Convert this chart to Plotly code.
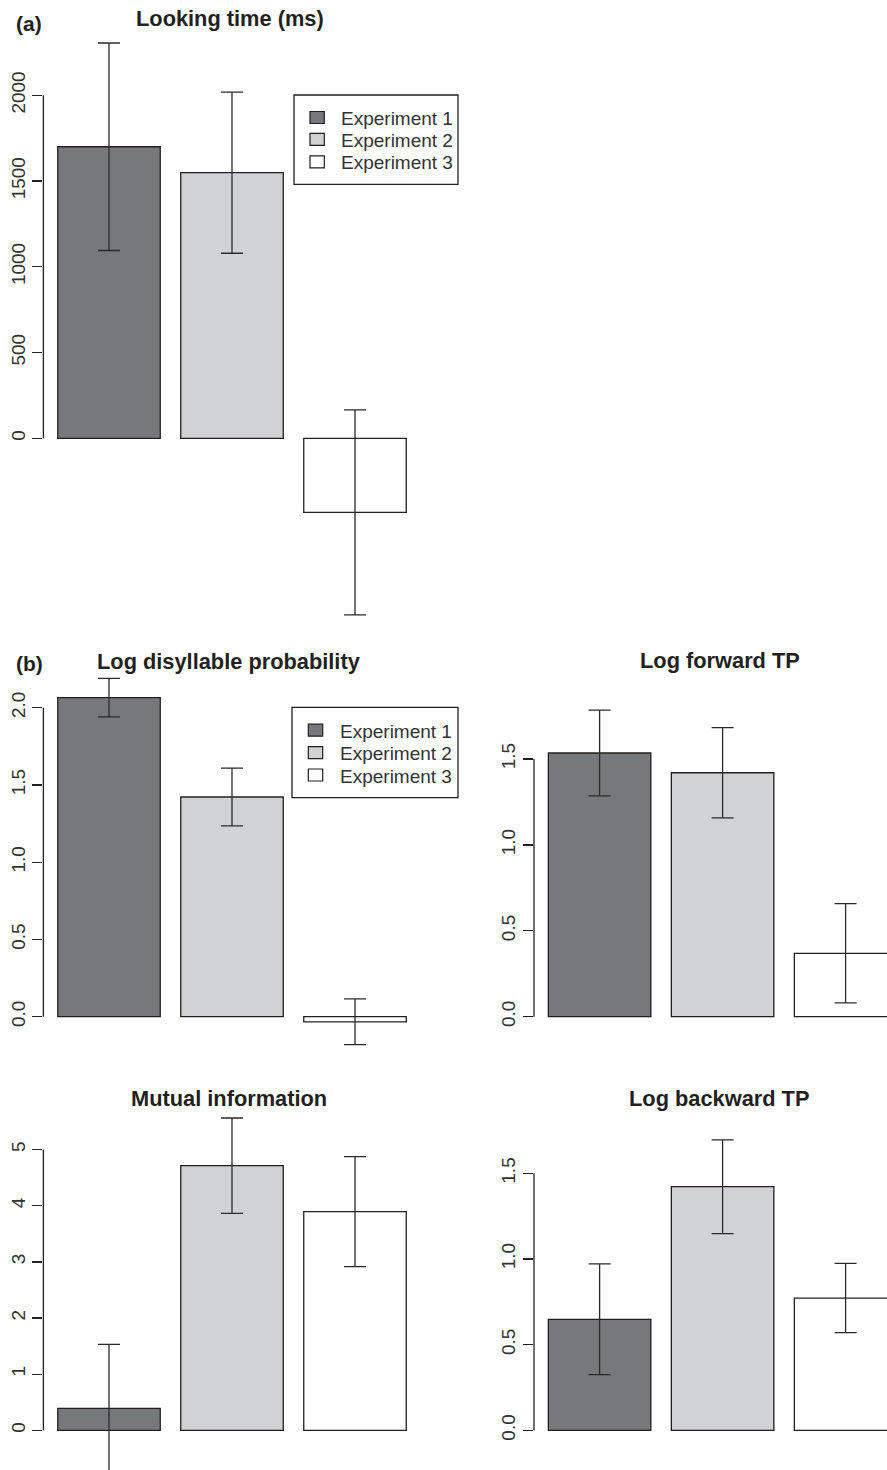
import plotly.graph_objects as go

W, H = 887, 1470

# ---------------- data ----------------
experiments = ["Experiment 1", "Experiment 2", "Experiment 3"]
bar_x = [0.7, 1.9, 3.1]

looking_mean = [1700, 1549, -432]
looking_err = [605, 470, 598]

disyl_mean = [2.065, 1.422, -0.033]
disyl_err = [0.125, 0.187, 0.148]

fwd_mean = [1.535, 1.420, 0.369]
fwd_err = [0.250, 0.263, 0.289]

mi_mean = [0.392, 4.714, 3.895]
mi_err = [1.140, 0.850, 0.980]

bwd_mean = [0.648, 1.422, 0.772]
bwd_err = [0.323, 0.274, 0.202]

ticks_looking = [0, 500, 1000, 1500, 2000]
labels_looking = ["0", "500", "1000", "1500", "2000"]
ticks_disyl = [0, 0.5, 1.0, 1.5, 2.0]
labels_disyl = ["0.0", "0.5", "1.0", "1.5", "2.0"]
ticks_fwd = [0, 0.5, 1.0, 1.5]
labels_fwd = ["0.0", "0.5", "1.0", "1.5"]
ticks_mi = [0, 1, 2, 3, 4, 5]
labels_mi = ["0", "1", "2", "3", "4", "5"]
ticks_bwd = [0, 0.5, 1.0, 1.5]
labels_bwd = ["0.0", "0.5", "1.0", "1.5"]

titles = ["Looking time (ms)", "Log disyllable probability", "Log forward TP",
          "Mutual information", "Log backward TP"]
panel_tags = ["(a)", "(b)"]

# ---------------- styling / layout ----------------
fills = ["#77787b", "#d1d2d4", "#ffffff"]
ink = "#231f20"
FONT = "Liberation Sans, Arial, Helvetica, sans-serif"
OFF = 0  # body margin removed via post_script


def fx(p):
    return (p - OFF) / W


def fy(p):
    return 1 - (p - OFF) / H


px_per_unit = 102.5
col_axis_px = [43.4, 534.0]
col_right_px = [415.0, 900.0]
row_px = [(30, 630), (675, 1050), (1110, 1480)]

# panel: (title idx, mean, err, ticks, labels, col, row, zero px, px per unit, title x px, title y px)
panels = [
    (0, looking_mean, looking_err, ticks_looking, labels_looking, 0, 0, 438.3, 0.1715, 230, 19),
    (1, disyl_mean, disyl_err, ticks_disyl, labels_disyl, 0, 1, 1016.7, 154.5, 228.5, 661),
    (2, fwd_mean, fwd_err, ticks_fwd, labels_fwd, 1, 1, 1016.7, 171.8, 719.5, 660),
    (3, mi_mean, mi_err, ticks_mi, labels_mi, 0, 2, 1430.3, 56.13, 228.7, 1098),
    (4, bwd_mean, bwd_err, ticks_bwd, labels_bwd, 1, 2, 1430.3, 171.3, 719.3, 1098),
]

fig = go.Figure()
shapes = []
annotations = []
layout_axes = {}

for k, (ti, mean, err, tv, tt, col, row, zero_p, ppu, tx, ty) in enumerate(panels, start=1):
    xn = "x" if k == 1 else f"x{k}"
    yn = "y" if k == 1 else f"y{k}"
    for i in range(3):
        fig.add_trace(go.Bar(
            x=[bar_x[i]], y=[mean[i]], width=1,
            name=experiments[i],
            marker=dict(color=fills[i], line=dict(color=ink, width=1.3)),
            error_y=dict(type="data", array=[err[i]], visible=True,
                         color="#2a2a2a", thickness=1.3, width=11),
            xaxis=xn, yaxis=yn, showlegend=False, hoverinfo="skip",
        ))
    x0p = col_axis_px[col]
    xd1 = min(1.0, fx(col_right_px[col]))
    u0 = 0.06
    u1 = u0 + (xd1 * W + OFF - x0p) / px_per_unit
    top_p, bot_p = row_px[row]
    yd0 = max(0.0, fy(bot_p))
    y_bot_px = (1 - yd0) * H + OFF
    layout_axes["xaxis" if k == 1 else f"xaxis{k}"] = dict(
        domain=[fx(x0p), xd1], range=[u0, u1],
        visible=False, anchor=yn, fixedrange=True)
    layout_axes["yaxis" if k == 1 else f"yaxis{k}"] = dict(
        domain=[yd0, fy(top_p)],
        range=[(zero_p - y_bot_px) / ppu, (zero_p - top_p) / ppu],
        anchor=xn,
        tickvals=tv, ticktext=tt, ticks="outside", ticklen=10, tickwidth=1.3,
        tickcolor=ink, tickangle=-90, showgrid=False, zeroline=False,
        showline=False, tickfont=dict(family=FONT, size=19, color="#333333"),
        fixedrange=True)
    shapes.append(dict(type="line", xref=f"{xn} domain", yref=yn,
                       x0=0, x1=0, y0=tv[0], y1=tv[-1],
                       line=dict(color=ink, width=1.3)))
    annotations.append(dict(text=f"<b>{titles[ti]}</b>", xref="paper", yref="paper",
                            x=fx(tx), y=fy(ty), xanchor="center", yanchor="middle",
                            showarrow=False, font=dict(family=FONT, size=21.8, color=ink)))

for tag, (tx, ty) in zip(panel_tags, [(14, 23), (14, 663)]):
    annotations.append(dict(text=f"<b>{tag}</b>", xref="paper", yref="paper", x=fx(tx), y=fy(ty),
                            xanchor="left", yanchor="middle", showarrow=False,
                            font=dict(family=FONT, size=21, color=ink)))

# legends (box, key squares, labels) for panels (a) and (b)
legend_boxes = [
    dict(box=(294, 95, 458, 184.3), key_x=(310, 324.3), rows=[117.5, 139.3, 161.8], text_x=340.7),
    dict(box=(292, 707.3, 458, 797.7), key_x=(308.3, 322.7), rows=[730.2, 752.7, 775.0], text_x=340.0),
]
for lg in legend_boxes:
    bx0, by0, bx1, by1 = lg["box"]
    shapes.append(dict(type="rect", xref="paper", yref="paper",
                       x0=fx(bx0), x1=fx(bx1), y0=fy(by1), y1=fy(by0),
                       line=dict(color=ink, width=1.3), fillcolor="white", layer="above"))
    for i, ry in enumerate(lg["rows"]):
        shapes.append(dict(type="rect", xref="paper", yref="paper",
                           x0=fx(lg["key_x"][0]), x1=fx(lg["key_x"][1]),
                           y0=fy(ry + 6), y1=fy(ry - 6),
                           line=dict(color=ink, width=1.2), fillcolor=fills[i], layer="above"))
        annotations.append(dict(text=experiments[i], xref="paper", yref="paper",
                                x=fx(lg["text_x"] - 2), y=fy(ry + 1), xanchor="left", yanchor="middle",
                                showarrow=False,
                                font=dict(family=FONT, size=19, color="#333333")))

fig.update_layout(
    width=W, height=H, margin=dict(l=0, r=0, t=0, b=0),
    paper_bgcolor="white", plot_bgcolor="white",
    barmode="overlay", showlegend=False,
    shapes=shapes, annotations=annotations,
    **layout_axes,
)

fig.write_html(
    "out.html",
    config={"displayModeBar": False, "staticPlot": True},
    post_script="document.body.style.margin='0';document.body.style.overflow='hidden';",
)
